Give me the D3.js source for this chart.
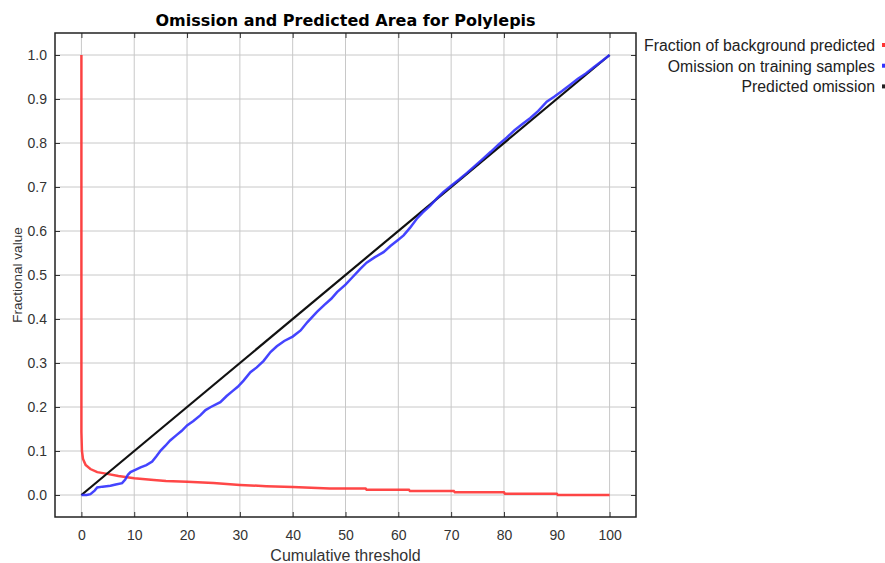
<!DOCTYPE html>
<html>
<head>
<meta charset="utf-8">
<script src="https://cdn.jsdelivr.net/npm/d3@7"></script>
<style>
  body { margin: 0; background: #fff; }
  svg { font-family: "Liberation Sans", Arial, sans-serif; }
</style>
</head>
<body>
<svg id="chart" width="885" height="563"></svg>
<script>
// Fraction of background predicted (red)
const bgX = [0, 0, 0.1, 0.3, 0.8, 1.7, 3, 4.9, 7, 10, 13.7, 16, 20, 25, 30, 35, 40, 47, 53.8, 54, 62, 62.2, 70.5, 70.7, 80, 80.2, 90, 90.2, 100];
const bgY = [1.0, 0.143, 0.10, 0.082, 0.068, 0.059, 0.052, 0.048, 0.043, 0.038, 0.034, 0.032, 0.030, 0.027, 0.023, 0.020, 0.018, 0.015, 0.015, 0.012, 0.012, 0.009, 0.009, 0.006, 0.006, 0.003, 0.003, 0.0, 0.0];

// Omission on training samples (blue)
const omX = [0, 1, 1.7, 2.5, 3, 4, 5.5, 6.5, 7.7, 8.3, 8.8, 9.3, 10.2, 11.2, 12.3, 13.4, 14.2, 15, 15.9, 16.8, 18, 19, 20, 21.2, 22.5, 23.5, 24.5, 26.3, 27.5, 28.6, 29.6, 30.7, 32, 33.2, 34.5, 35.8, 37, 38.4, 40, 41.5, 42.8, 44.6, 46, 47.3, 48.4, 50, 51.4, 52.8, 54, 55.5, 57.2, 58.5, 60, 61, 62.2, 63.5, 64.6, 66, 67.3, 68.5, 70, 71.5, 73, 74.5, 76, 77.5, 79, 80.5, 82, 83.5, 85, 86.5, 88.1, 89.5, 91, 92.5, 94, 95.5, 97, 98.5, 100];
const omY = [0, 0, 0.002, 0.01, 0.017, 0.019, 0.021, 0.024, 0.027, 0.035, 0.046, 0.052, 0.057, 0.063, 0.068, 0.076, 0.088, 0.101, 0.112, 0.124, 0.136, 0.146, 0.158, 0.168, 0.181, 0.193, 0.200, 0.211, 0.225, 0.236, 0.246, 0.260, 0.279, 0.290, 0.305, 0.325, 0.338, 0.350, 0.360, 0.374, 0.393, 0.416, 0.432, 0.446, 0.461, 0.478, 0.496, 0.514, 0.528, 0.540, 0.552, 0.566, 0.580, 0.590, 0.607, 0.628, 0.642, 0.657, 0.674, 0.688, 0.703, 0.717, 0.732, 0.748, 0.764, 0.780, 0.797, 0.812, 0.829, 0.843, 0.857, 0.873, 0.894, 0.905, 0.918, 0.932, 0.946, 0.958, 0.972, 0.986, 1.0];

// Predicted omission (black)
const predX = [0, 100];
const predY = [0, 1];

const xTicks = [0, 10, 20, 30, 40, 50, 60, 70, 80, 90, 100];
const yTicks = [0, 0.1, 0.2, 0.3, 0.4, 0.5, 0.6, 0.7, 0.8, 0.9, 1.0];

const legendLabels = ["Fraction of background predicted", "Omission on training samples", "Predicted omission"];
const legendColors = ["#ff3333", "#3333ff", "#222222"];

const svg = d3.select("#chart");
const plotL = 55, plotR = 636, plotT = 33, plotB = 517;

const x = d3.scaleLinear().domain([-5, 105]).range([plotL, plotR]);
const y = d3.scaleLinear().domain([-0.05, 1.05]).range([plotB, plotT]);

// grid
svg.append("g").selectAll("line").data(xTicks).enter().append("line")
  .attr("x1", d => x(d)).attr("x2", d => x(d))
  .attr("y1", plotT).attr("y2", plotB)
  .attr("stroke", "#c8c8c8").attr("stroke-width", 1);
svg.append("g").selectAll("line").data(yTicks).enter().append("line")
  .attr("y1", d => y(d)).attr("y2", d => y(d))
  .attr("x1", plotL).attr("x2", plotR)
  .attr("stroke", "#c8c8c8").attr("stroke-width", 1);

// axes (inward ticks on all four sides)
const tickStyle = g => {
  g.select(".domain").remove();
  g.selectAll(".tick line").attr("stroke", "#333");
  g.selectAll(".tick text").attr("fill", "#333").style("font-size", "14px");
};
svg.append("g").attr("transform", `translate(0,${plotB})`)
  .call(d3.axisBottom(x).tickValues(xTicks).tickSizeInner(-5).tickSizeOuter(0).tickPadding(13).tickFormat(d3.format("d")))
  .call(tickStyle);
svg.append("g").attr("transform", `translate(0,${plotT})`)
  .call(d3.axisTop(x).tickValues(xTicks).tickSizeInner(-5).tickSizeOuter(0).tickFormat(""))
  .call(tickStyle);
svg.append("g").attr("transform", `translate(${plotL},0)`)
  .call(d3.axisLeft(y).tickValues(yTicks).tickSizeInner(-5).tickSizeOuter(0).tickPadding(8).tickFormat(d3.format(".1f")))
  .call(tickStyle);
svg.append("g").attr("transform", `translate(${plotR},0)`)
  .call(d3.axisRight(y).tickValues(yTicks).tickSizeInner(-5).tickSizeOuter(0).tickFormat(""))
  .call(tickStyle);

svg.append("rect")
  .attr("x", plotL).attr("y", plotT)
  .attr("width", plotR - plotL).attr("height", plotB - plotT)
  .attr("fill", "none").attr("stroke", "#222").attr("stroke-width", 1.5);

// series
const line = d3.line().x(d => x(d[0])).y(d => y(d[1]));
svg.append("path").datum(bgX.map((v, i) => [v, bgY[i]]))
  .attr("d", line).attr("fill", "none")
  .attr("stroke", "#ff3333").attr("stroke-width", 2.5).attr("stroke-opacity", 0.9);
svg.append("path").datum(predX.map((v, i) => [v, predY[i]]))
  .attr("d", line).attr("fill", "none")
  .attr("stroke", "#111").attr("stroke-width", 2.2);
svg.append("path").datum(omX.map((v, i) => [v, omY[i]]))
  .attr("d", line).attr("fill", "none")
  .attr("stroke", "#3030ff").attr("stroke-width", 2.5).attr("stroke-opacity", 0.9);

// titles
svg.append("text")
  .attr("x", (plotL + plotR) / 2).attr("y", 26)
  .attr("text-anchor", "middle")
  .style("font-family", "'DejaVu Sans', Verdana, sans-serif")
  .style("font-size", "16px").style("font-weight", "bold")
  .text("Omission and Predicted Area for Polylepis");
svg.append("text")
  .attr("x", (plotL + plotR) / 2).attr("y", 561)
  .attr("text-anchor", "middle").attr("fill", "#333")
  .style("font-size", "16px")
  .text("Cumulative threshold");
svg.append("text")
  .attr("transform", `translate(22,${(plotT + plotB) / 2}) rotate(-90)`)
  .attr("text-anchor", "middle").attr("fill", "#333")
  .style("font-size", "13.5px")
  .text("Fractional value");

// legend
const legend = svg.append("g").selectAll("g").data(legendLabels).enter().append("g")
  .attr("transform", (d, i) => `translate(0,${51 + i * 20.7})`);
legend.append("text")
  .attr("x", 875).attr("text-anchor", "end").attr("fill", "#222")
  .style("font-size", "15.8px")
  .text(d => d);
legend.append("rect")
  .attr("x", 882).attr("y", -8).attr("width", 3).attr("height", 4)
  .attr("fill", (d, i) => legendColors[i]);
</script>
</body>
</html>
